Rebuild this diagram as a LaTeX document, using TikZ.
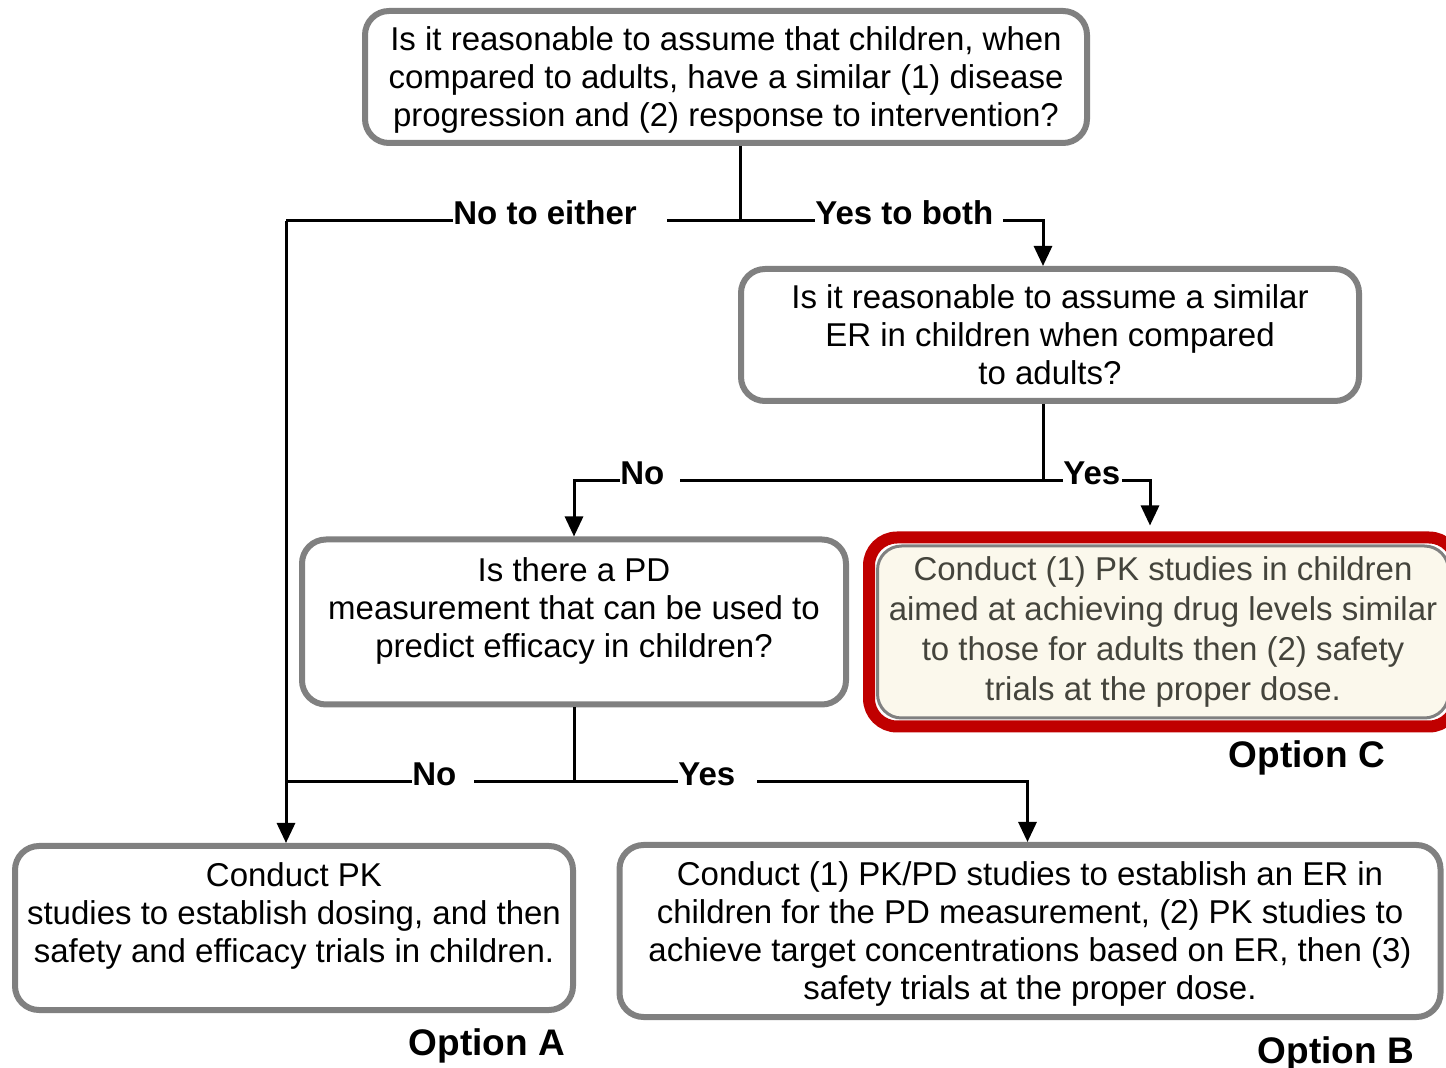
\documentclass[tikz,border=0pt]{standalone}
\usepackage{fontspec}
\setmainfont{Liberation Sans}
\usetikzlibrary{arrows.meta,positioning,fit}

\definecolor{boxgray}{RGB}{128,128,128}
\definecolor{optred}{RGB}{192,0,0}
\definecolor{cream}{RGB}{251,248,236}
\definecolor{softtext}{RGB}{68,68,60}

\begin{document}
\begin{tikzpicture}[
  x=0.5pt, y=-0.5pt,
  font=\fontsize{16.5}{19}\selectfont,
  question/.style={draw=boxgray, line width=3pt, rounded corners=12pt, fill=white, align=center, inner sep=2pt},
  picked/.style={draw=boxgray, line width=1.5pt, rounded corners=12pt, fill=cream, text=softtext, align=center, inner sep=2pt, font=\fontsize{16.5}{20}\selectfont},
  frame/.style={draw=optred, line width=6pt, rounded corners=14pt, inner sep=3.5pt},
  lbl/.style={font=\bfseries\fontsize{16.5}{19}\selectfont, fill=white, inner sep=0pt, anchor=base west},
  optlbl/.style={font=\bfseries\fontsize{18.5}{22}\selectfont, anchor=base},
  line/.style={line width=1.5pt},
  arrow/.style={line, -{Triangle[width=9pt,length=10pt]}}
]
  \useasboundingbox (0,0) rectangle (1446,1068);

  % questions
  \node[question, minimum width=361pt, minimum height=66pt, text depth=0.5pt] (q_top) at (726,77)
    {Is it reasonable to assume that children, when\\
     compared to adults, have a similar (1) disease\\
     progression and (2) response to intervention?};
  \node[question, minimum width=309pt, minimum height=66pt] (q_er) at (1050,335)
    {Is it reasonable to assume a similar\\
     ER in children when compared\\
     to adults?};
  \node[question, minimum width=272pt, minimum height=82.5pt, text depth=14pt] (q_pd) at (574,622)
    {Is there a PD\\
     measurement that can be used to\\
     predict efficacy in children?};

  % outcomes
  \node[question, minimum width=279pt, minimum height=82pt, text depth=15pt] (opt_a) at (294,928)
    {Conduct PK\\
     studies to establish dosing, and then\\
     safety and efficacy trials in children.};
  \node[question, minimum width=410.5pt, minimum height=86pt, text depth=0.5pt] (opt_b) at (1030,931)
    {Conduct (1) PK/PD studies to establish an ER in\\
     children for the PD measurement, (2) PK studies to\\
     achieve target concentrations based on ER, then (3)\\
     safety trials at the proper dose.};
  \node[picked, minimum width=285.5pt, minimum height=86pt] (opt_c) at (1163,632)
    {Conduct (1) PK studies in children\\
     aimed at achieving drug levels similar\\
     to those for adults then (2) safety\\
     trials at the proper dose.};
  \node[frame, fit=(opt_c)] (c_frame) {};

  % junctions
  \coordinate (j_top) at (740,221);
  \coordinate (j_er) at (1043,481);
  \coordinate (j_pd) at (574,782);
  \coordinate (c_left) at (286,221);

  % connectors
  \draw[line] (q_top.south -| j_top) -- (j_top);
  \draw[line] (j_top) -- (c_left);
  \draw[arrow] (c_left) -- (c_left |- opt_a.north);
  \draw[arrow] (j_top) -| ([xshift=-3.5pt]q_er.north);
  \draw[line] (q_er.south -| j_er) -- (j_er);
  \draw[arrow] (j_er) -| (q_pd.north);
  \draw[arrow, shorten >=3pt] (j_er) -| ([xshift=-6.5pt]c_frame.north);
  \draw[line] (q_pd.south) -- (j_pd);
  \draw[line] (j_pd) -- (j_pd -| c_left);
  \draw[arrow] (j_pd) -| ([xshift=-1.25pt]opt_b.north);

  % branch labels
  \node[lbl] (l_noeither) at (453,225) {No to either\kern15pt};
  \node[lbl] (l_yesboth) at (815,225) {Yes to both\kern5pt};
  \node[lbl] (l_no_er) at (620,485) {No\kern8pt};
  \node[lbl] (l_yes_er) at (1063,485) {Yes\kern1pt};
  \node[lbl] (l_no_pd) at (412,786) {No\kern9pt};
  \node[lbl] (l_yes_pd) at (678,786) {Yes\kern11pt};

  % option names
  \node[optlbl] (n_opt_a) at (487,1055) {Option A};
  \node[optlbl] (n_opt_b) at (1336,1063) {Option B};
  \node[optlbl] (n_opt_c) at (1307,768) {Option C};
\end{tikzpicture}
\end{document}
